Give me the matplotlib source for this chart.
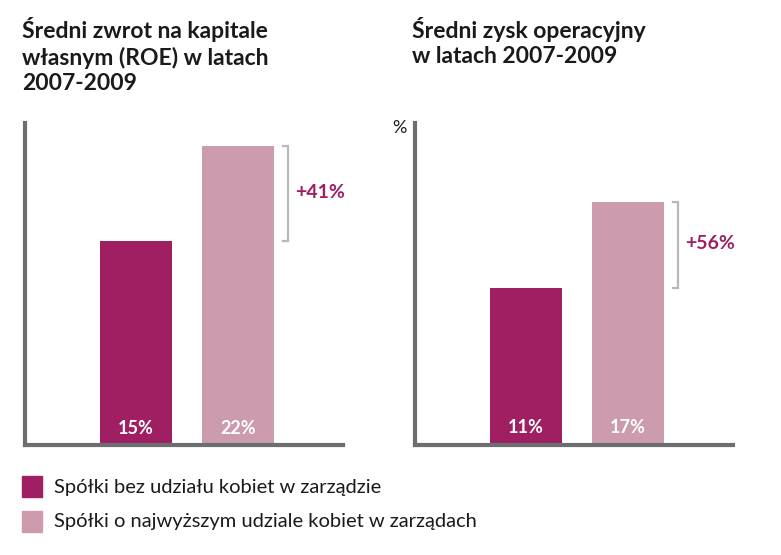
import matplotlib
matplotlib.use("Agg")
import matplotlib.pyplot as plt
from matplotlib.patches import Rectangle

plt.rcParams['font.family'] = ['Lato', 'DejaVu Sans']

titles = ["Średni zwrot na kapitale\nwłasnym (ROE) w latach\n2007-2009",
          "Średni zysk operacyjny\nw latach 2007-2009"]
series_labels = ["Spółki bez udziału kobiet w zarządzie",
                 "Spółki o najwyższym udziale kobiet w zarządach"]
roe_values = [15, 22]
op_values = [11, 17]
diff_labels = ["+41%", "+56%"]
value_labels = [["15%", "22%"], ["11%", "17%"]]

dark = "#a01e62"
light = "#cc9bae"
axis_grey = "#6d6e71"
bracket_grey = "#b8b8b8"
text_col = "#1a1a1a"

W, H = 781, 555
fig = plt.figure(figsize=(W / 100, H / 100), dpi=100)

def px_axes(x0, y_top, x1, y_bot):
    return fig.add_axes([x0 / W, 1 - y_bot / H, (x1 - x0) / W, (y_bot - y_top) / H])

panels = [
    dict(x0=25, values=roe_values, ytop=23.7, diff=diff_labels[0], labels=value_labels[0], pct=False),
    dict(x0=415, values=op_values, ytop=22.5, diff=diff_labels[1], labels=value_labels[1], pct=True),
]

for i, p in enumerate(panels):
    ax = px_axes(p["x0"], 123, p["x0"] + 318, 445)
    xs = [0, 1]
    ax.bar(xs, p["values"], width=0.706, color=[dark, light], zorder=2)
    ax.set_xlim(-1.088, 2.029)
    ax.set_ylim(0, p["ytop"])
    for s in ["top", "right"]:
        ax.spines[s].set_visible(False)
    for s in ["left", "bottom"]:
        ax.spines[s].set_color(axis_grey)
        ax.spines[s].set_linewidth(3)
        ax.spines[s].set_capstyle("projecting")
    ax.set_xticks([])
    ax.set_yticks([])
    ax.patch.set_alpha(0)
    for x, lab in zip(xs, p["labels"]):
        ax.text(x, 0.6, lab, ha="center", va="bottom", color="white",
                fontsize=13, fontweight="bold", zorder=3)
    lo, hi = p["values"]
    bx = 1.49
    ax.plot([bx - 0.05, bx, bx, bx - 0.05], [lo, lo, hi, hi], color=bracket_grey,
            lw=1.6, clip_on=False, solid_joinstyle="miter")
    ax.text(bx + 0.07, (lo + hi) / 2 + 0.1, p["diff"], ha="left", va="center",
            color=dark, fontsize=14, fontweight="bold")
    if p["pct"]:
        fig.text((p["x0"] - 8) / W, 1 - 128 / H, "%", ha="right", va="center",
                 fontsize=13, color=text_col)
    fig.text((p["x0"] - 3) / W, 1 - 17 / H, titles[i], ha="left", va="top",
             fontsize=16.5, fontweight="bold", color=text_col, linespacing=1.25)

# legend
for j, (lab, col) in enumerate(zip(series_labels, [dark, light])):
    y_top = 476 + j * 35
    fig.patches.append(Rectangle((22 / W, 1 - (y_top + 21) / H), 20 / W, 21 / H,
                                 transform=fig.transFigure, color=col))
    fig.text(54 / W, 1 - (y_top + 11) / H, lab, ha="left", va="center",
             fontsize=14.5, color=text_col)

fig.savefig("out.png", dpi=100)
